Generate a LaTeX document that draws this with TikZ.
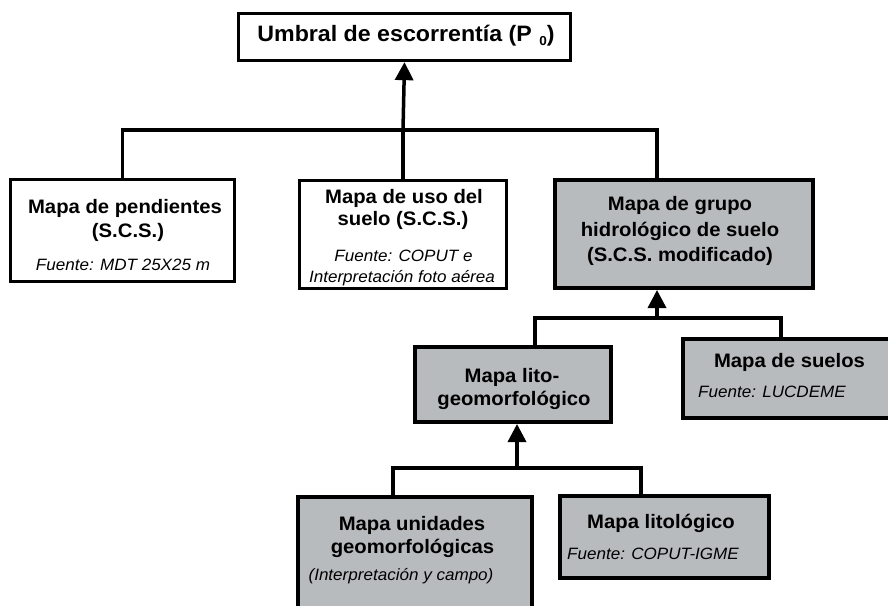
\documentclass[tikz,border=0pt]{standalone}
\usepackage{fontspec}
\setmainfont{Liberation Sans}[FakeStretch=1.04]
\usetikzlibrary{arrows.meta}
\definecolor{boxgrey}{RGB}{183,187,189}
\tikzset{
  wbox/.style={draw, line width=3.3pt, fill=white, inner sep=0pt},
  gbox/.style={draw, line width=4pt, fill=boxgrey, inner sep=0pt},
  conn/.style={line width=3.5pt},
  arr/.style={line width=3.5pt, -{Triangle[length=18pt,width=18pt]}},
  bt/.style={font=\bfseries\fontsize{19.5}{22}\selectfont, anchor=base, inner sep=0pt},
  tt/.style={font=\bfseries\fontsize{22.3}{24}\selectfont, anchor=base, inner sep=0pt},
  it/.style={font=\itshape\fontsize{16.4}{18}\selectfont, anchor=base, inner sep=0pt},
}
\begin{document}
\begin{tikzpicture}[x=1pt,y=-1pt]
\useasboundingbox (0,0) rectangle (888,605);
% boxes
\node[wbox, minimum width=332pt, minimum height=47pt] (top) at (404.5,37) {};
\node[wbox, minimum width=224pt, minimum height=102pt] (b1) at (122.5,230.5) {};
\node[wbox, minimum width=207pt, minimum height=108pt] (b2) at (403,234.5) {};
\node[gbox, minimum width=258pt, minimum height=108pt] (b3) at (684,234) {};
\node[gbox, minimum width=196pt, minimum height=75pt] (lito) at (513,384.5) {};
\node[gbox, minimum width=207pt, minimum height=79pt] (suelos) at (786.5,378.5) {};
\node[gbox, minimum width=234pt, minimum height=113pt] (unid) at (415,553.5) {};
\node[gbox, minimum width=209pt, minimum height=82pt] (litol) at (664.5,537) {};
% junctions
\coordinate (j1) at (403,130);
\coordinate (j2) at (657,318);
\coordinate (j3) at (517,468);
\coordinate (b3in) at ([xshift=-27pt]b3.north);
\coordinate (litoin) at ([xshift=22pt]lito.north);
\coordinate (suelosin) at ([xshift=-5.5pt]suelos.north);
\coordinate (unidin) at ([xshift=-22pt]unid.north);
\coordinate (litolin) at ([xshift=-23.5pt]litol.north);
% connectors
\draw[conn] (b1.north) |- (b3in |- j1) -- (b3in);
\draw[conn] (b2.north) -- (b2.north |- j1);
\draw[arr] (j1) -- (top.south);
\draw[conn] (litoin) |- (suelosin |- j2) -- (suelosin);
\draw[arr] (j2) -- (j2 |- b3.south);
\draw[conn] (unidin) |- (litolin |- j3) -- (litolin);
\draw[arr] (j3) -- (j3 |- lito.south);
% texts
\node[tt] (t0) at (406,41) {Umbral de escorrentía (P\,\,\raisebox{-4pt}{\fontsize{13}{13}\selectfont 0})};
\node[bt] (t1a) at (125,213) {Mapa de pendientes};
\node[bt] (t1b) at (128,237) {(S.C.S.)};
\node[it] (t1c) at (123,270) {Fuente: MDT 25X25 m};
\node[bt] (t2a) at (404,203) {Mapa de uso del};
\node[bt] (t2b) at (403,225) {suelo (S.C.S.)};
\node[it] (t2c) at (403.5,261) {Fuente: COPUT e};
\node[it] (t2d) at (402,282) {Interpretación foto aérea};
\node[bt] (t3a) at (680,210) {Mapa de grupo};
\node[bt] (t3b) at (680,236) {hidrológico de suelo};
\node[bt] (t3c) at (680,261) {(S.C.S. modificado)};
\node[bt] (t4a) at (512,382) {Mapa lito-};
\node[bt] (t4b) at (514,405) {geomorfológico};
\node[bt] (t5a) at (789.5,367) {Mapa de suelos};
\node[it] (t5b) at (772,397) {Fuente: LUCDEME};
\node[bt] (t6a) at (412,530) {Mapa unidades};
\node[bt] (t6b) at (412.5,553) {geomorfológicas};
\node[it] (t6c) at (401,580) {(Interpretación y campo)};
\node[bt] (t7a) at (661,528) {Mapa litológico};
\node[it] (t7b) at (653,559) {Fuente: COPUT-IGME};
\end{tikzpicture}
\end{document}
